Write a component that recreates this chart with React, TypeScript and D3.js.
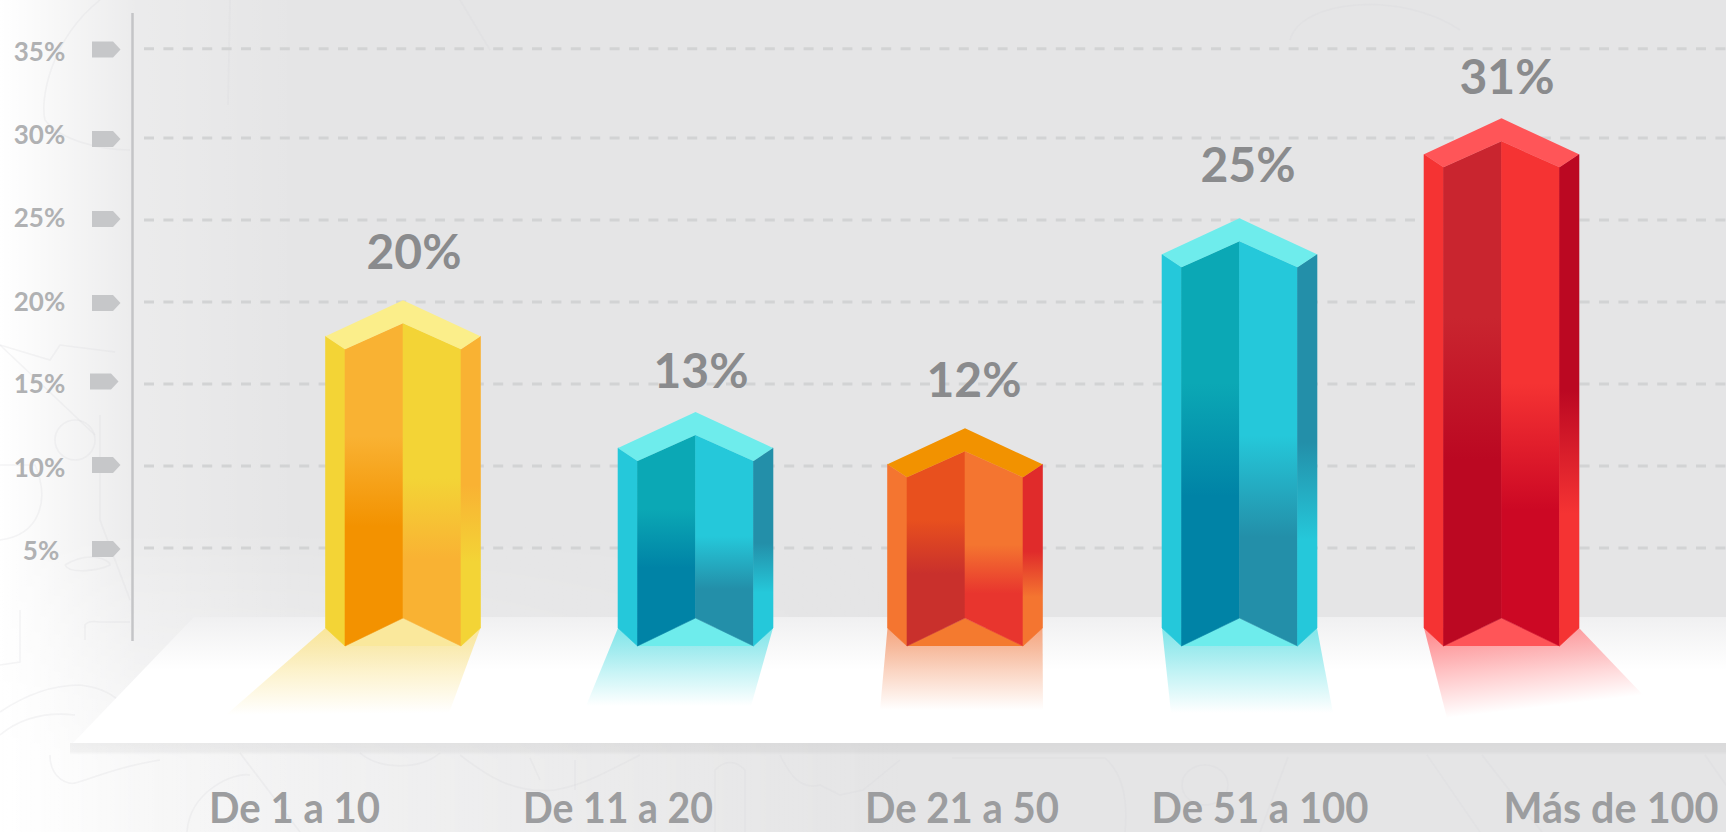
import React from "react";
import * as d3 from "d3";

const categories = ["De 1 a 10", "De 11 a 20", "De 21 a 50", "De 51 a 100", "Más de 100"];
const barValues = [20.1, 13.3, 12.3, 25.1, 31.1];
const valueLabels = ["20%", "13%", "12%", "25%", "31%"];
const tickValues = [5, 10, 15, 20, 25, 30, 35];

type Palette = { top: string; floor: string; shade: string; ls: [string, string]; lm: [string, string]; rm: [string, string]; rs: [string, string] };
const palettes: Palette[] = [
  { top: "#fbee8a", floor: "#fae89c", shade: "#fae69a", ls: ["#f3d436", "#f3d436"], lm: ["#f9b233", "#f39200"], rm: ["#f3d436", "#f9b233"], rs: ["#f9b233", "#f3d436"] },
  { top: "#6eecec", floor: "#6eecec", shade: "#7fe6ea", ls: ["#25c8da", "#25c8da"], lm: ["#0ba8b5", "#0083a6"], rm: ["#25c8da", "#238fa9"], rs: ["#238fa9", "#25c8da"] },
  { top: "#f29200", floor: "#f47a2f", shade: "#f6a67f", ls: ["#f47530", "#f47530"], lm: ["#e8501e", "#c9302c"], rm: ["#f47530", "#e8352e"], rs: ["#e02b2b", "#f47530"] },
  { top: "#6eecec", floor: "#6eecec", shade: "#7fe6ea", ls: ["#25c8da", "#25c8da"], lm: ["#0ba8b5", "#0083a6"], rm: ["#25c8da", "#238fa9"], rs: ["#238fa9", "#25c8da"] },
  { top: "#ff5558", floor: "#ff5558", shade: "#ff9295", ls: ["#f53333", "#f53333"], lm: ["#c9252f", "#bb0822"], rm: ["#f53333", "#cc0824"], rs: ["#bb0822", "#f53333"] },
];

// faint background sketch lines
const doodles = [
  "M0 665 L20 662 L20 610",
  "M85 640 L85 625 Q88 620 100 622 L130 622",
  "M0 712 Q40 685 80 685 Q105 688 118 700",
  "M0 735 Q30 710 75 715",
  "M50 755 C50 780 70 785 75 783 C90 780 110 768 160 760",
  "M187 832 C190 790 235 772 250 775",
  "M240 753 L300 832",
  "M360 753 C380 770 420 770 440 753",
  "M460 755 C480 770 510 795 555 790 C585 785 610 770 640 755",
  "M530 758 L540 780 M575 760 L575 790",
  "M715 832 L715 770 Q730 755 745 770 L745 832",
  "M780 755 C790 775 800 790 820 785 L840 795 L863 790 L900 760",
  "M952 758 L1105 758 Q1130 780 1125 832",
  "M1182 785 A23 20 0 1 0 1228 785 A23 20 0 1 0 1182 785",
  "M1288 757 L1260 832",
  "M1427 755 L1480 832",
  "M1482 755 L1542 832",
  "M1705 755 L1726 785",
  "M0 345 L50 360 L60 345 L115 352",
  "M0 345 L95 435",
  "M55 440 A20 20 0 1 0 95 440 A20 20 0 1 0 55 440",
  "M100 415 L100 520 L130 600",
  "M0 465 L35 465 C50 500 40 535 0 540",
  "M65 565 C90 550 110 560 110 565 C100 570 70 575 65 565",
  "M100 0 C50 40 40 100 45 120 C60 140 100 150 130 150",
  "M230 0 L228 105",
  "M460 0 L490 50",
  "M1290 40 C1300 0 1400 -10 1460 30",
];

const W = 1726;
const H = 832;
const y = d3.scaleLinear().domain([5, 30, 35]).range([548, 138, 48.7]);
const x = d3.scaleOrdinal<string, number>().domain(categories).range([403, 695.5, 965, 1239.5, 1501.5]);
const xLabel = d3.scaleOrdinal<string, number>().domain(categories).range([294.5, 618, 962, 1260, 1611]);
const labelWidth = d3.scaleOrdinal<string, number>().domain(categories).range([171, 190, 194, 217, 215]);
const valueX = d3.scaleOrdinal<string, number>().domain(categories).range([414, 701, 974, 1248, 1507]);
const valueGap = d3.scaleOrdinal<string, number>().domain(categories).range([31, 24, 31, 36, 24]);
const tickLabelY = d3.scaleOrdinal<number, number>().domain(tickValues).range([560, 477, 393, 311, 227, 144, 61]);
const tickLabelX = d3.scaleOrdinal<number, number>().domain(tickValues).range([41, 39.5, 39.5, 39.5, 39.5, 39.5, 39.5]);
const markerY = d3.scaleOrdinal<number, number>().domain(tickValues).range([549, 465, 381.5, 303, 219, 139, 49.5]);
const markerX = d3.scaleOrdinal<number, number>().domain(tickValues).range([92, 92, 90, 92, 92, 92, 92]);
// reflection footprint on the floor: bottom-left x, bottom-left y, bottom-right x, bottom-right y
const shadowFoot = d3.scaleOrdinal<string, number[]>().domain(categories).range([
  [226, 715, 449, 713],
  [586, 706, 751, 706],
  [880, 710, 1043, 710],
  [1171, 713, 1333, 713],
  [1447, 718, 1643, 695],
]);

const line = d3.line<[number, number]>().curve(d3.curveLinearClosed);

const HALF = 77.5;
const STRIP = 19.5;
const OUTER_BOTTOM = 628;
const INNER_BOTTOM = 646;
const NOTCH = 618;

function Grad({ id, c, a, b }: { id: string; c: [string, string]; a: string; b: string }) {
  return (
    <linearGradient id={id} x1="0" y1="0" x2="0" y2="1">
      <stop offset={a} stopColor={c[0]} />
      <stop offset={b} stopColor={c[1]} />
    </linearGradient>
  );
}

// gradient vector running from the bar's foot straight onto the far edge of its reflection
function shadowVector(cat: string) {
  const [blx, bly, brx, bry] = shadowFoot(cat);
  const x0 = x(cat);
  const y0 = OUTER_BOTTOM;
  const dx = brx - blx;
  const dy = bry - bly;
  const t = ((x0 - blx) * dx + (y0 - bly) * dy) / (dx * dx + dy * dy);
  return { x1: x0, y1: y0, x2: blx + t * dx, y2: bly + t * dy };
}

export default function App() {
  return (
    <svg width={W} height={H} viewBox={`0 0 ${W} ${H}`} style={{ position: "absolute", left: 0, top: 0, display: "block" }}>
      <defs>
        <linearGradient id="bgLeft" x1="0" y1="0" x2="1" y2="0">
          <stop offset="0" stopColor="#ffffff" />
          <stop offset="0.1" stopColor="#ffffff" stopOpacity="0.85" />
          <stop offset="0.45" stopColor="#ffffff" stopOpacity="0.25" />
          <stop offset="1" stopColor="#ffffff" stopOpacity="0" />
        </linearGradient>
        <linearGradient id="bgWide" x1="0" y1="0" x2="1" y2="0">
          <stop offset="0" stopColor="#ffffff" stopOpacity="0.75" />
          <stop offset="1" stopColor="#ffffff" stopOpacity="0" />
        </linearGradient>
        <linearGradient id="fadeIn" gradientUnits="userSpaceOnUse" x1="0" y1="520" x2="0" y2="760">
          <stop offset="0" stopColor="#000000" />
          <stop offset="1" stopColor="#ffffff" />
        </linearGradient>
        <mask id="wideMask" maskUnits="userSpaceOnUse" x="0" y="0" width={W} height={H}>
          <rect width={W} height={H} fill="url(#fadeIn)" />
        </mask>
        <linearGradient id="floorFill" x1="0" y1="0" x2="0" y2="1">
          <stop offset="0" stopColor="#f0f0f1" />
          <stop offset="0.42" stopColor="#ffffff" />
          <stop offset="1" stopColor="#ffffff" />
        </linearGradient>
        <linearGradient id="floorEdge" x1="0" y1="0" x2="0" y2="1">
          <stop offset="0" stopColor="#000000" stopOpacity="0.05" />
          <stop offset="0.7" stopColor="#000000" stopOpacity="0.04" />
          <stop offset="1" stopColor="#000000" stopOpacity="0" />
        </linearGradient>
        {palettes.map((p, i) => (
          <g key={i}>
            <Grad id={`ls${i}`} c={p.ls} a="35%" b="63%" />
            <Grad id={`lm${i}`} c={p.lm} a="35%" b="63%" />
            <Grad id={`rm${i}`} c={p.rm} a="48%" b="73%" />
            <Grad id={`rs${i}`} c={p.rs} a="48%" b="73%" />
            <linearGradient id={`sh${i}`} gradientUnits="userSpaceOnUse" {...shadowVector(categories[i])}>
              <stop offset="0" stopColor={p.shade} stopOpacity="1" />
              <stop offset="1" stopColor={p.shade} stopOpacity="0" />
            </linearGradient>
          </g>
        ))}
      </defs>

      <rect width={W} height={H} fill="#e5e5e6" />
      <rect width={300} height={H} fill="url(#bgLeft)" />
      <rect width={900} height={H} fill="url(#bgWide)" mask="url(#wideMask)" />

      {doodles.map((d, i) => (
        <path key={i} d={d} fill="none" stroke="#d9d9da" strokeOpacity={0.25} strokeWidth={1.6} />
      ))}

      {/* grid */}
      {tickValues.map((t) => (
        <line key={t} x1={144} x2={W} y1={y(t)} y2={y(t)} stroke="#d2d3d4" strokeWidth={3} strokeDasharray="10 9.4" />
      ))}

      {/* axis */}
      <line x1={132.5} x2={132.5} y1={13} y2={641} stroke="#c4c5c7" strokeWidth={2.5} />
      {tickValues.map((t) => {
        const c = markerY(t);
        const m = markerX(t);
        return (
          <g key={t}>
            <path
              d={line([[m, c - 8], [m + 21, c - 8], [m + 28.5, c], [m + 21, c + 8], [m, c + 8]]) ?? ""}
              fill="#c6c7c9"
            />
            <text x={tickLabelX(t)} y={tickLabelY(t)} textAnchor="middle" fontFamily="Lato" fontWeight={700} fontSize={26} fill="#b0b1b3">
              {t}%
            </text>
          </g>
        );
      })}

      {/* floor */}
      <rect x={70} y={743} width={W - 70} height={12} fill="url(#floorEdge)" />
      <path d={line([[194, 617], [W, 617], [W, 743], [73, 743]]) ?? ""} fill="url(#floorFill)" />

      {/* bars */}
      {categories.map((cat, i) => {
        const cx = x(cat);
        const apex = y(barValues[i]);
        const L = cx - HALF;
        const R = cx + HALF;
        const IL = L + STRIP;
        const IR = R - STRIP;
        const corner = apex + 36;
        const innerCorner = apex + 49;
        const innerApex = apex + 23;
        const [blx, bly, brx, bry] = shadowFoot(cat);
        const p = palettes[i];
        const face = (id: string, pts: [number, number][]) => {
          const paint = `url(#${id}${i})`;
          return <path d={line(pts) ?? ""} fill={paint} stroke={paint} strokeWidth={0.6} />;
        };
        return (
          <g key={cat}>
            <path d={line([[L, OUTER_BOTTOM], [R, OUTER_BOTTOM], [brx, bry], [blx, bly]]) ?? ""} fill={`url(#sh${i})`} />
            <path d={line([[IL, INNER_BOTTOM], [cx, NOTCH], [IR, INNER_BOTTOM]]) ?? ""} fill={p.floor} />
            {face("ls", [[L, corner], [IL, innerCorner], [IL, INNER_BOTTOM], [L, OUTER_BOTTOM]])}
            {face("lm", [[IL, innerCorner], [cx, innerApex], [cx, NOTCH], [IL, INNER_BOTTOM]])}
            {face("rm", [[cx, innerApex], [IR, innerCorner], [IR, INNER_BOTTOM], [cx, NOTCH]])}
            {face("rs", [[IR, innerCorner], [R, corner], [R, OUTER_BOTTOM], [IR, INNER_BOTTOM]])}
            <path d={line([[L, corner], [cx, apex], [R, corner], [IR, innerCorner], [cx, innerApex], [IL, innerCorner]]) ?? ""} fill={p.top} />
            <text x={valueX(cat)} y={apex - valueGap(cat)} textAnchor="middle" fontFamily="Lato" fontWeight={700} fontSize={48} fill="#8a8b8d">
              {valueLabels[i]}
            </text>
            <text
              x={xLabel(cat)}
              y={823}
              textAnchor="middle"
              fontFamily="Lato"
              fontWeight={700}
              fontSize={42}
              fill="#9c9d9f"
              textLength={labelWidth(cat)}
              lengthAdjust="spacingAndGlyphs"
            >
              {cat}
            </text>
          </g>
        );
      })}
    </svg>
  );
}
